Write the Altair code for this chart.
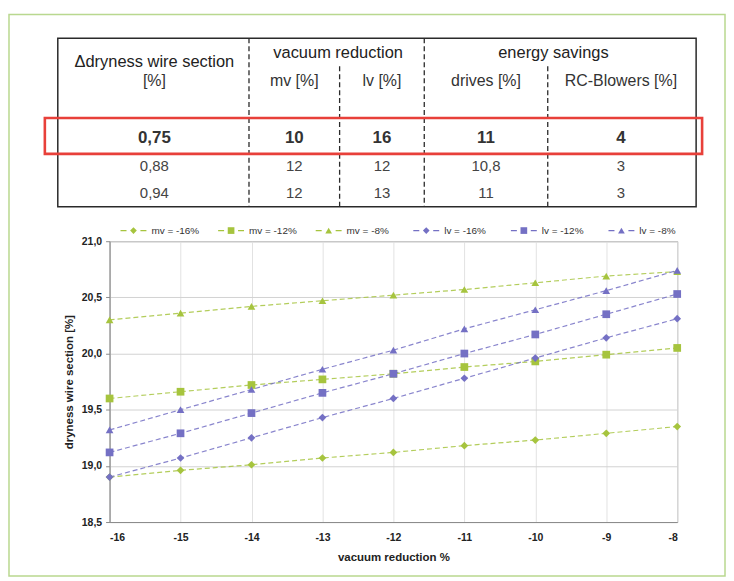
import altair as alt
import pandas as pd

# ---------------- data ----------------
x_vals = [-16, -15, -14, -13, -12, -11, -10, -9, -8]
series_names = ["mv = -16%", "mv = -12%", "mv = -8%", "lv = -16%", "lv = -12%", "lv = -8%"]
mv_16 = [18.90, 18.96, 19.01, 19.07, 19.12, 19.18, 19.23, 19.29, 19.35]
mv_12 = [19.60, 19.66, 19.72, 19.77, 19.82, 19.88, 19.93, 19.99, 20.05]
mv_8 = [20.30, 20.36, 20.42, 20.47, 20.52, 20.57, 20.63, 20.69, 20.73]
lv_16 = [18.90, 19.07, 19.25, 19.43, 19.60, 19.78, 19.96, 20.14, 20.31]
lv_12 = [19.12, 19.29, 19.47, 19.65, 19.82, 20.00, 20.17, 20.35, 20.53]
lv_8 = [19.32, 19.50, 19.68, 19.86, 20.03, 20.22, 20.39, 20.56, 20.74]
series_values = [mv_16, mv_12, mv_8, lv_16, lv_12, lv_8]

table_title = ["Δdryness wire section"]
table_group_headers = ["vacuum reduction", "energy savings"]
table_sub_headers = ["[%]", "mv [%]", "lv [%]", "drives [%]", "RC-Blowers [%]"]
table_row_1 = ["0,75", "10", "16", "11", "4"]
table_row_2 = ["0,88", "12", "12", "10,8", "3"]
table_row_3 = ["0,94", "12", "13", "11", "3"]

x_ticks = [-16, -15, -14, -13, -12, -11, -10, -9, -8]
y_ticks = [18.5, 19.0, 19.5, 20.0, 20.5, 21.0]

# ---------------- layout / style ----------------
W, H = 570, 282
LEFT, TOP = 110, 240.7          # page position of plot area


def px(v):
    return v - LEFT


def py(v):
    return v - TOP


FONT = "Liberation Sans, Arial, sans-serif"
GREEN = "#a6c43e"
BLUE = "#7470c4"

color_scale = alt.Scale(domain=series_names, range=[GREEN, GREEN, GREEN, BLUE, BLUE, BLUE])
shape_scale = alt.Scale(domain=series_names,
                        range=["diamond", "square", "triangle-up", "diamond", "square", "triangle-up"])

# ---------------- main series ----------------
rows = []
for name, vals in zip(series_names, series_values):
    for xv, yv in zip(x_vals, vals):
        rows.append({"x": xv, "v": yv, "series": name})
df = pd.DataFrame(rows)

x_scale = alt.Scale(domain=[-16, -8], nice=False, zero=False)
y_scale = alt.Scale(domain=[18.5, 21.0], nice=False, zero=False)

x_axis = alt.Axis(values=x_ticks, labelExpr="datum.value + ''", title="vacuum reduction %",
                  labelFont=FONT, labelFontSize=10.5, labelFontWeight="bold", labelColor="#222",
                  titleFont=FONT, titleFontSize=11.5, titleFontWeight="bold", titleColor="#222",
                  labelPadding=11, titlePadding=8, tickSize=0, domainColor="#8a8a8a",
                  grid=True, gridColor="#e2e2e2", gridWidth=1)
y_axis = alt.Axis(values=y_ticks, labelExpr="replace(format(datum.value, '.1f'), '.', ',')",
                  title="dryness wire section [%]",
                  labelFont=FONT, labelFontSize=10.5, labelFontWeight="bold", labelColor="#222",
                  titleFont=FONT, titleFontSize=11.5, titleFontWeight="bold", titleColor="#222",
                  labelPadding=4, titlePadding=7, tickSize=4, tickColor="#8a8a8a",
                  domainColor="#8a8a8a", grid=True, gridColor="#d2d2d2", gridWidth=1)

lines = alt.Chart(df).mark_line(strokeDash=[5, 3], strokeWidth=1.2, opacity=0.85).encode(
    x=alt.X("x:Q", scale=x_scale, axis=x_axis),
    y=alt.Y("v:Q", scale=y_scale, axis=y_axis),
    color=alt.Color("series:N", scale=color_scale, legend=None),
    order="x:Q",
)
points = alt.Chart(df).mark_point(filled=True, size=60, opacity=1).encode(
    x=alt.X("x:Q", scale=x_scale),
    y=alt.Y("v:Q", scale=y_scale),
    color=alt.Color("series:N", scale=color_scale, legend=None),
    shape=alt.Shape("series:N", scale=shape_scale, legend=None),
)
main = alt.layer(lines, points)

# ---------------- custom legend ----------------
leg_df = pd.DataFrame({"series": series_names, "slot": list(range(len(series_names)))})
leg_scale = alt.Scale(domain=[0, 5], range=[px(134), px(624)], nice=False, zero=False)
LEG_Y = py(230)
leg_rules = alt.Chart(leg_df).mark_rule(strokeDash=[6, 14], strokeWidth=1.2,
                                        xOffset=-13, x2Offset=13).encode(
    x=alt.X("slot:Q", scale=leg_scale, axis=None),
    x2="slot:Q",
    y=alt.value(LEG_Y),
    color=alt.Color("series:N", scale=color_scale, legend=None),
)
leg_pts = alt.Chart(leg_df).mark_point(filled=True, size=45, opacity=1).encode(
    x=alt.X("slot:Q", scale=leg_scale, axis=None),
    y=alt.value(LEG_Y),
    color=alt.Color("series:N", scale=color_scale, legend=None),
    shape=alt.Shape("series:N", scale=shape_scale, legend=None),
)
leg_txt = alt.Chart(leg_df).mark_text(align="left", baseline="middle", dx=18, font=FONT,
                                      fontSize=10, color="#333").encode(
    x=alt.X("slot:Q", scale=leg_scale, axis=None),
    y=alt.value(LEG_Y),
    text="series:N",
)

# ---------------- table ----------------
col_scale = alt.Scale(domain=[0, 1, 2, 3, 4],
                      range=[px(155), px(295.5), px(383.5), px(488), px(623.5)],
                      nice=False, zero=False)
row_scale = alt.Scale(domain=[0, 1, 2, 3, 4],
                      range=[py(52), py(80), py(137), py(165), py(192)],
                      nice=False, zero=False)


def table_text(df_t, size, weight, color, dy=0):
    return alt.Chart(df_t).mark_text(font=FONT, fontSize=size, fontWeight=weight, color=color,
                                     baseline="middle", align="center", dy=dy).encode(
        x=alt.X("col:Q", scale=col_scale, axis=None),
        y=alt.Y("row:Q", scale=row_scale, axis=None),
        text="t:N",
    )


df_title = pd.DataFrame({"t": table_title, "col": [0], "row": [0]})
df_groups = pd.DataFrame({"t": table_group_headers, "col": [1.5, 3.5], "row": [0, 0]})
df_sub = pd.DataFrame({"t": table_sub_headers, "col": [0, 1, 2, 3, 4], "row": [1] * 5})
df_r1 = pd.DataFrame({"t": table_row_1, "col": [0, 1, 2, 3, 4], "row": [2] * 5})
df_r23 = pd.DataFrame({"t": table_row_2 + table_row_3, "col": [0, 1, 2, 3, 4] * 2,
                       "row": [3] * 5 + [4] * 5})

t_title = table_text(df_title, 16.5, "normal", "#222", dy=9)
t_groups = table_text(df_groups, 16.5, "normal", "#222")
t_sub = table_text(df_sub, 16, "normal", "#333")
t_r1 = table_text(df_r1, 17, "bold", "#333")
t_r23 = table_text(df_r23, 15, "normal", "#444")

one = pd.DataFrame({"a": [0]})
frame = alt.Chart(one).mark_rect(fill="transparent", stroke="#b9d88f", strokeWidth=1.5).encode(
    x=alt.value(px(9)), x2=alt.value(px(728)), y=alt.value(py(13)), y2=alt.value(py(577)))
tbl_border = alt.Chart(one).mark_rect(fill="transparent", stroke="#2a2a2a", strokeWidth=1.5).encode(
    x=alt.value(px(58)), x2=alt.value(px(699)), y=alt.value(py(37)), y2=alt.value(py(206)))
sep_full_a = alt.Chart(one).mark_rule(stroke="#2a2a2a", strokeWidth=1.3, strokeDash=[5, 3]).encode(
    x=alt.value(px(250)), y=alt.value(py(37)), y2=alt.value(py(206)))
sep_full_b = alt.Chart(one).mark_rule(stroke="#2a2a2a", strokeWidth=1.3, strokeDash=[5, 3]).encode(
    x=alt.value(px(426)), y=alt.value(py(37)), y2=alt.value(py(206)))
sep_part_a = alt.Chart(one).mark_rule(stroke="#2a2a2a", strokeWidth=1.3, strokeDash=[5, 3]).encode(
    x=alt.value(px(341)), y=alt.value(py(65)), y2=alt.value(py(206)))
sep_part_b = alt.Chart(one).mark_rule(stroke="#2a2a2a", strokeWidth=1.3, strokeDash=[5, 3]).encode(
    x=alt.value(px(550)), y=alt.value(py(65)), y2=alt.value(py(206)))
red_box = alt.Chart(one).mark_rect(fill="transparent", stroke="#e8403a", strokeWidth=2.6).encode(
    x=alt.value(px(45)), x2=alt.value(px(705)), y=alt.value(py(117)), y2=alt.value(py(153)))

chart = alt.layer(
    frame, tbl_border, sep_full_a, sep_full_b, sep_part_a, sep_part_b,
    t_title, t_groups, t_sub, t_r1, t_r23, red_box,
    leg_rules, leg_pts, leg_txt,
    main,
).resolve_scale(
    x="independent", y="independent"
).properties(
    width=W, height=H, padding={"left": 0, "top": 4, "right": 0, "bottom": 0},
    background="white",
).configure_view(stroke="#8a8a8a", strokeWidth=1)

chart.save("out.html", embed_options={"renderer": "svg", "actions": False})
